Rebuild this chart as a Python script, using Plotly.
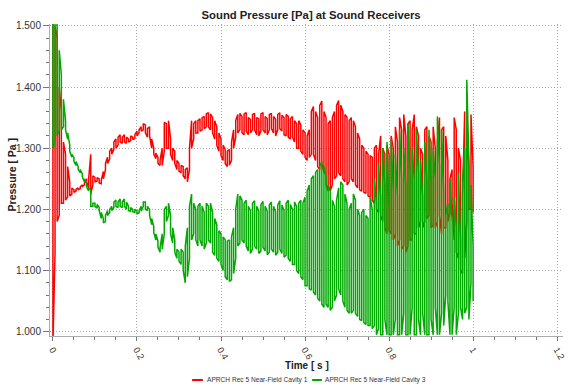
import plotly.graph_objects as go

# ---- data (upper / lower extent of each trace every 5 ms) ----
time_s = [round(i * 0.005, 3) for i in range(201)]

red_hi = [
    1.55, 1.50, 1.48, 1.40, 1.36, 1.31, 1.29, 1.27, 1.245, 1.235,
    1.232, 1.233, 1.235, 1.237, 1.240, 1.243, 1.250, 1.250, 1.290, 1.255,
    1.252, 1.252, 1.250, 1.248, 1.262, 1.275, 1.285, 1.295, 1.300, 1.310,
    1.315, 1.318, 1.322, 1.318, 1.322, 1.318, 1.315, 1.320, 1.318, 1.322,
    1.328, 1.330, 1.335, 1.340, 1.338, 1.332, 1.335, 1.315, 1.300, 1.292,
    1.285, 1.280, 1.300, 1.342, 1.340, 1.345, 1.315, 1.300, 1.295, 1.280,
    1.275, 1.272, 1.270, 1.265, 1.268, 1.300, 1.345, 1.340, 1.345, 1.345,
    1.348, 1.350, 1.352, 1.356, 1.358, 1.356, 1.350, 1.345, 1.335, 1.325,
    1.315, 1.305, 1.298, 1.295, 1.298, 1.310, 1.330, 1.345, 1.355, 1.357,
    1.352, 1.356, 1.358, 1.350, 1.347, 1.355, 1.357, 1.350, 1.348, 1.356,
    1.358, 1.352, 1.348, 1.355, 1.357, 1.352, 1.347, 1.355, 1.358, 1.354,
    1.350, 1.355, 1.352, 1.348, 1.352, 1.345, 1.340, 1.345, 1.338, 1.330,
    1.325, 1.320, 1.330, 1.360, 1.368, 1.360, 1.350, 1.370, 1.377, 1.360,
    1.350, 1.340, 1.345, 1.350, 1.360, 1.370, 1.378, 1.370, 1.360, 1.355,
    1.350, 1.345, 1.350, 1.345, 1.335, 1.325, 1.315, 1.305, 1.300, 1.295,
    1.290, 1.288, 1.285, 1.300, 1.305, 1.290, 1.320, 1.300, 1.290, 1.305,
    1.290, 1.320, 1.300, 1.335, 1.310, 1.350, 1.330, 1.355, 1.320, 1.340,
    1.345, 1.330, 1.355, 1.335, 1.320, 1.300, 1.290, 1.330, 1.335, 1.320,
    1.310, 1.335, 1.300, 1.310, 1.350, 1.330, 1.335, 1.320, 1.280, 1.250,
    1.265, 1.350, 1.330, 1.300, 1.280, 1.220, 1.360, 1.330, 1.270, 1.355,
    1.270,
]
red_lo = [
    0.98, 1.13, 1.18, 1.19, 1.21, 1.21, 1.215, 1.22, 1.222, 1.225,
    1.228, 1.230, 1.232, 1.234, 1.237, 1.240, 1.245, 1.235, 1.225, 1.240,
    1.245, 1.246, 1.243, 1.242, 1.250, 1.265, 1.275, 1.282, 1.290, 1.298,
    1.300, 1.305, 1.310, 1.308, 1.310, 1.308, 1.310, 1.312, 1.314, 1.316,
    1.320, 1.325, 1.328, 1.330, 1.325, 1.318, 1.320, 1.300, 1.290, 1.283,
    1.275, 1.272, 1.272, 1.295, 1.300, 1.300, 1.290, 1.280, 1.275, 1.265,
    1.262, 1.260, 1.255, 1.250, 1.245, 1.265, 1.300, 1.315, 1.325, 1.325,
    1.328, 1.330, 1.332, 1.335, 1.335, 1.330, 1.325, 1.315, 1.305, 1.295,
    1.288, 1.280, 1.275, 1.270, 1.272, 1.280, 1.300, 1.318, 1.325, 1.330,
    1.325, 1.322, 1.328, 1.322, 1.325, 1.330, 1.330, 1.322, 1.320, 1.328,
    1.330, 1.325, 1.322, 1.330, 1.332, 1.325, 1.320, 1.330, 1.332, 1.328,
    1.322, 1.320, 1.318, 1.315, 1.318, 1.310, 1.300, 1.300, 1.295, 1.290,
    1.285, 1.280, 1.285, 1.290, 1.290, 1.280, 1.270, 1.265, 1.275, 1.260,
    1.240, 1.230, 1.230, 1.240, 1.250, 1.255, 1.260, 1.255, 1.250, 1.245,
    1.240, 1.245, 1.250, 1.245, 1.240, 1.235, 1.232, 1.230, 1.228, 1.226,
    1.222, 1.220, 1.215, 1.210, 1.200, 1.195, 1.190, 1.180, 1.170, 1.160,
    1.165, 1.160, 1.150, 1.160, 1.140, 1.150, 1.135, 1.140, 1.130, 1.140,
    1.150, 1.150, 1.160, 1.160, 1.170, 1.180, 1.170, 1.180, 1.185, 1.190,
    1.170, 1.175, 1.170, 1.180, 1.190, 1.160, 1.170, 1.170, 1.180, 1.195,
    1.210, 1.150, 1.130, 1.120, 1.100, 1.095, 1.120, 1.180, 1.200, 1.200,
    1.195,
]
green_hi = [
    1.55, 1.55, 1.50, 1.46, 1.42, 1.38, 1.345, 1.325, 1.305, 1.290,
    1.285, 1.278, 1.270, 1.265, 1.258, 1.250, 1.242, 1.235, 1.232, 1.210,
    1.210, 1.208, 1.203, 1.195, 1.185, 1.190, 1.198, 1.200, 1.205, 1.212,
    1.215, 1.212, 1.217, 1.212, 1.217, 1.212, 1.205, 1.203, 1.200, 1.200,
    1.198, 1.198, 1.205, 1.212, 1.212, 1.205, 1.200, 1.185, 1.172, 1.160,
    1.148, 1.138, 1.160, 1.200, 1.205, 1.210, 1.190, 1.170, 1.150, 1.135,
    1.130, 1.135, 1.130, 1.140, 1.170, 1.205, 1.225, 1.210, 1.200, 1.205,
    1.210, 1.205, 1.195, 1.210, 1.205, 1.210, 1.195, 1.185, 1.175, 1.165,
    1.160, 1.155, 1.150, 1.148, 1.150, 1.155, 1.170, 1.200, 1.225, 1.222,
    1.215, 1.210, 1.215, 1.205, 1.198, 1.210, 1.214, 1.205, 1.197, 1.208,
    1.213, 1.205, 1.197, 1.207, 1.212, 1.205, 1.196, 1.207, 1.214, 1.207,
    1.198, 1.210, 1.215, 1.208, 1.200, 1.212, 1.205, 1.210, 1.215, 1.210,
    1.220, 1.230, 1.240, 1.250, 1.255, 1.260, 1.265, 1.270, 1.278, 1.270,
    1.255, 1.240, 1.230, 1.215, 1.205, 1.215, 1.235, 1.245, 1.240, 1.225,
    1.210, 1.200, 1.210, 1.225, 1.215, 1.200, 1.190, 1.195, 1.200, 1.190,
    1.185, 1.220, 1.200, 1.250, 1.210, 1.275, 1.220, 1.300, 1.240, 1.310,
    1.200, 1.315, 1.230, 1.290, 1.220, 1.330, 1.250, 1.300, 1.240, 1.340,
    1.260, 1.300, 1.250, 1.330, 1.260, 1.280, 1.220, 1.310, 1.250, 1.330,
    1.240, 1.300, 1.250, 1.352, 1.270, 1.330, 1.230, 1.190, 1.210, 1.250,
    1.180, 1.220, 1.170, 1.260, 1.150, 1.250, 1.300, 1.412, 1.280, 1.240,
    1.140,
]
green_lo = [
    1.30, 1.31, 1.32, 1.33, 1.33, 1.335, 1.330, 1.315, 1.295, 1.285,
    1.278, 1.272, 1.265, 1.260, 1.253, 1.245, 1.237, 1.230, 1.205, 1.205,
    1.205, 1.202, 1.198, 1.185, 1.178, 1.180, 1.190, 1.195, 1.198, 1.203,
    1.205, 1.203, 1.205, 1.203, 1.205, 1.200, 1.198, 1.197, 1.196, 1.195,
    1.193, 1.194, 1.197, 1.205, 1.200, 1.198, 1.190, 1.175, 1.162, 1.150,
    1.138, 1.130, 1.135, 1.160, 1.180, 1.190, 1.160, 1.145, 1.130, 1.120,
    1.115, 1.110, 1.100, 1.080, 1.090, 1.120, 1.150, 1.160, 1.150, 1.140,
    1.150, 1.140, 1.135, 1.145, 1.150, 1.145, 1.130, 1.125, 1.120, 1.115,
    1.110, 1.100, 1.090, 1.085, 1.082, 1.085, 1.095, 1.120, 1.140, 1.145,
    1.150, 1.145, 1.140, 1.132, 1.128, 1.135, 1.140, 1.135, 1.128, 1.132,
    1.138, 1.132, 1.126, 1.130, 1.135, 1.130, 1.125, 1.130, 1.135, 1.128,
    1.122, 1.125, 1.120, 1.115, 1.110, 1.110, 1.100, 1.095, 1.090, 1.085,
    1.075, 1.075, 1.070, 1.068, 1.065, 1.060, 1.055, 1.050, 1.045, 1.040,
    1.045, 1.040, 1.035, 1.040, 1.050, 1.060, 1.070, 1.060, 1.050, 1.040,
    1.035, 1.030, 1.030, 1.035, 1.030, 1.025, 1.020, 1.018, 1.015, 1.012,
    1.010, 1.010, 1.005, 1.010, 0.995, 1.005, 0.995, 0.995, 1.020, 0.995,
    0.995, 0.995, 0.995, 1.020, 0.995, 0.995, 0.995, 1.030, 0.995, 0.995,
    0.995, 1.040, 0.995, 0.995, 1.020, 0.995, 1.030, 0.995, 0.995, 0.995,
    1.020, 0.995, 1.040, 0.995, 0.995, 1.030, 1.010, 1.060, 1.050, 0.995,
    0.995, 1.040, 0.995, 1.030, 1.040, 1.020, 1.030, 1.040, 1.020, 1.080,
    1.050,
]

series_names = ["APRCH Rec 5 Near-Field Cavity 1", "APRCH Rec 5 Near-Field Cavity 3"]
series_colors = ["rgb(255,0,0)", "rgb(0,168,0)"]
x_tick_vals = [0, 0.2, 0.4, 0.6, 0.8, 1.0, 1.2]
x_tick_text = ["0", "0.2", "0.4", "0.6", "0.8", "1", "1.2"]
y_tick_vals = [1.0, 1.1, 1.2, 1.3, 1.4, 1.5]


def trace_path(t, hi, lo):
    xs, ys = [], []
    for i, (ti, h, l) in enumerate(zip(t, hi, lo)):
        xs += [ti, ti]
        ys += [h, l] if i % 2 == 0 else [l, h]
    return xs, ys


fig = go.Figure()
for name, color, hi, lo in [
    (series_names[0], series_colors[0], red_hi, red_lo),
    (series_names[1], series_colors[1], green_hi, green_lo),
]:
    xs, ys = trace_path(time_s, hi, lo)
    fig.add_trace(go.Scatter(x=xs, y=ys, mode="lines", name=name, showlegend=False,
                             line=dict(color=color, width=1.5)))

FONT = "Liberation Sans"
GRID = dict(showgrid=True, gridcolor="#a8a8a8", griddash="1px,2px", gridwidth=1, zeroline=False)
fig.update_layout(
    width=568, height=385,
    margin=dict(l=50, r=5, t=24, b=49, autoexpand=False),
    paper_bgcolor="white", plot_bgcolor="white",
    font=dict(family=FONT, size=10, color="#333333"),
    title=dict(text="<b>Sound Pressure [Pa] at Sound Receivers</b>",
               xref="paper", x=0.509, xanchor="center", yref="container", y=0.961, yanchor="middle",
               font=dict(family=FONT, size=11.3, color="#222222")),
    showlegend=False,
)
fig.update_xaxes(
    range=[-0.007, 1.214], tickvals=x_tick_vals, ticktext=x_tick_text,
    tickangle=60, ticks="outside", ticklen=4, tickcolor="#777777", automargin=False,
    tickfont=dict(family=FONT, size=9, color="#333333"),
    showline=True, linecolor="#aaaaaa", linewidth=1, **GRID,
    minor=dict(dtick=0.05, ticks="outside", ticklen=3, tickcolor="#777777", showgrid=False),
)
fig.update_yaxes(
    range=[0.993, 1.503], tickvals=y_tick_vals, tickformat=".3f",
    ticks="outside", ticklen=6, tickcolor="#777777", automargin=False,
    showline=True, linecolor="#aaaaaa", linewidth=1, **GRID,
    minor=dict(dtick=0.02, ticks="outside", ticklen=3, tickcolor="#777777", showgrid=False),
)
fig.add_annotation(text="<b>Time [ s ]</b>", xref="paper", yref="paper", x=0.501, y=-0.094,
                   xanchor="center", yanchor="middle", showarrow=False,
                   font=dict(family=FONT, size=10, color="#222222"))
fig.add_annotation(text="<b>Pressure [ Pa ]</b>", xref="paper", yref="paper", x=-0.074, y=0.518,
                   xanchor="center", yanchor="middle", showarrow=False, textangle=-90,
                   font=dict(family=FONT, size=10.5, color="#222222"))

# legend (swatch + label for each series)
legend_x = [(0.277, 0.298, 0.302), (0.511, 0.530, 0.533)]
for (x0, x1, xt), name, color in zip(legend_x, series_names, series_colors):
    fig.add_shape(type="line", xref="paper", yref="paper", x0=x0, x1=x1, y0=-0.141, y1=-0.141,
                  line=dict(color=color, width=2))
    fig.add_annotation(text=name, xref="paper", yref="paper", x=xt, y=-0.141,
                       xanchor="left", yanchor="middle", showarrow=False,
                       font=dict(family=FONT, size=6.6, color="#333333"))

fig.write_html("out.html")
